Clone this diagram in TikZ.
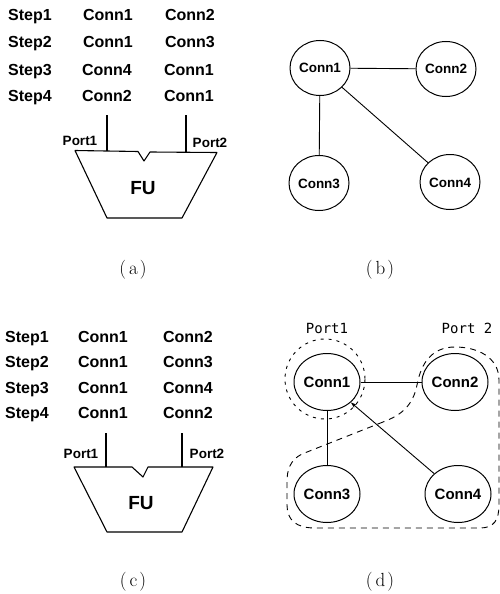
\documentclass[tikz,border=0pt]{standalone}
\usepackage{fontspec}
\newfontfamily\lsans{Liberation Sans}
\newfontfamily\monofnt{DejaVu Sans Mono}
\usetikzlibrary{shapes.geometric,arrows.meta}
\begin{document}
\begin{tikzpicture}[x=1pt,y=-1pt,
  tbl/.style={font=\lsans\bfseries\fontsize{16}{18}\selectfont, inner sep=0pt, text height=11.5pt, text depth=0pt},
  portl/.style={font=\lsans\bfseries\fontsize{13.5}{15}\selectfont, inner sep=0pt, text height=10pt, text depth=0pt},
  ful/.style={font=\lsans\bfseries\fontsize{19}{21}\selectfont, inner sep=0pt, text height=13.5pt, text depth=0pt},
  captxt/.style={font=\fontsize{19}{21}\selectfont, inner sep=0pt},
  fu/.style={line width=1.1pt, line join=round},
  wire/.style={line width=1.1pt},
  cb/.style={draw, ellipse, line width=1pt, minimum width=60pt, minimum height=55pt, inner sep=0pt,
     font=\lsans\bfseries\fontsize{13.5}{15}\selectfont, text height=10pt, text depth=0pt},
  cd/.style={draw, ellipse, line width=1pt, minimum width=60pt, minimum height=57pt, inner sep=0pt,
     font=\lsans\bfseries\fontsize{15}{17}\selectfont, text height=11pt, text depth=0pt},
  lnk/.style={line width=0.9pt},
  portdash/.style={line width=0.9pt, dash pattern=on 6pt off 5pt},
  portdot/.style={line width=0.9pt, dash pattern=on 3pt off 5pt},
  pl/.style={font=\monofnt\fontsize{14}{16}\selectfont, inner sep=0pt}]
\useasboundingbox (0,0) rectangle (500,594);

% ---------- (a) ----------
\node[tbl] (a11) at (30,15) {Step1};
\node[tbl] (a12) at (108,15) {Conn1};
\node[tbl] (a13) at (190,15) {Conn2};
\node[tbl] (a21) at (30,42) {Step2};
\node[tbl] (a22) at (108,42) {Conn1};
\node[tbl] (a23) at (190,42) {Conn3};
\node[tbl] (a31) at (30,70) {Step3};
\node[tbl] (a32) at (107,70) {Conn4};
\node[tbl] (a33) at (189,70) {Conn1};
\node[tbl] (a41) at (30,96) {Step4};
\node[tbl] (a42) at (107,96) {Conn2};
\node[tbl] (a43) at (189,96) {Conn1};
\coordinate (pa1t) at (107,115);
\coordinate (pa1b) at (107,151);
\coordinate (pa2t) at (186,115);
\coordinate (pa2b) at (186,152);
\draw[wire] (pa1t) -- (pa1b);
\draw[wire] (pa2t) -- (pa2b);
\draw[fu] (75,150.5) -- (138,151.5) -- (144,161) -- (150,152) -- (217,152.5) -- (182,218) -- (107,218) -- cycle;
\node[ful] (fua) at (143,188) {FU};
\node[portl] (pa1) at (80,140) {Port1};
\node[portl] (pa2) at (210,142) {Port2};
\node[captxt] (capa) at (133,270) {(\hspace{3pt}a\hspace{2pt})};

% ---------- (b) ----------
\node[cb] (b1) at (320,68) {Conn1};
\node[cb] (b2) at (446,69) {Conn2};
\node[cb] (b3) at (319,183) {Conn3};
\node[cb] (b4) at (450,182) {Conn4};
\draw[lnk] (b1) -- (b2);
\draw[lnk] (b1) -- (b3);
\draw[lnk] (b1) -- (b4);
\node[captxt] (capb) at (380,270) {(\hspace{3pt}b\hspace{2pt})};

% ---------- (c) ----------
\node[tbl] (c11) at (27,337) {Step1};
\node[tbl] (c12) at (103,337) {Conn1};
\node[tbl] (c13) at (188,337) {Conn2};
\node[tbl] (c21) at (27,362) {Step2};
\node[tbl] (c22) at (103,362) {Conn1};
\node[tbl] (c23) at (188,362) {Conn3};
\node[tbl] (c31) at (27,388) {Step3};
\node[tbl] (c32) at (103,388) {Conn1};
\node[tbl] (c33) at (188,388) {Conn4};
\node[tbl] (c41) at (27,413) {Step4};
\node[tbl] (c42) at (103,413) {Conn1};
\node[tbl] (c43) at (188,413) {Conn2};
\coordinate (pc1t) at (106,433);
\coordinate (pc1b) at (106,467);
\coordinate (pc2t) at (182,433);
\coordinate (pc2b) at (182,467);
\draw[wire] (pc1t) -- (pc1b);
\draw[wire] (pc2t) -- (pc2b);
\draw[fu] (74,467) -- (132,467) -- (143,477) -- (148,467) -- (213,467) -- (182,532) -- (107,532) -- cycle;
\node[ful] (fuc) at (141,503) {FU};
\node[portl] (pc1) at (81,453) {Port1};
\node[portl] (pc2) at (207,453) {Port2};
\node[captxt] (capc) at (133,582) {(\hspace{3pt}c\hspace{2pt})};

% ---------- (d) ----------
\node[cd] (d1) at (327,382) {Conn1};
\node[cd] (d2) at (455,382) {Conn2};
\node[cd] (d3) at (327,494) {Conn3};
\node[cd] (d4) at (458,494) {Conn4};
\draw[lnk] (d1) -- (d2);
\draw[lnk] (d1) -- (d3);
\draw[lnk,-{Stealth[length=6pt,width=4pt]}] (d4) -- (d1);
\draw[portdot] (325,379) circle[radius=40];
\draw[portdash] (383,422) -- (302,454)
  .. controls (290,460) and (287,470) .. (287,482) -- (287,505)
  .. controls (287,520) and (296,528) .. (315,528) -- (480,528)
  .. controls (494,528) and (499,520) .. (499,505) -- (499,380)
  .. controls (499,357) and (477,347) .. (455,347)
  .. controls (432,347) and (421,363) .. (417,385)
  .. controls (413,405) and (402,415) .. (383,422);
\node[pl] (lp1) at (327,328) {Port1};
\node[pl] (lp2) at (467,328) {Port 2};
\node[captxt] (capd) at (380,582) {(\hspace{3pt}d\hspace{2pt})};
\end{tikzpicture}
\end{document}
